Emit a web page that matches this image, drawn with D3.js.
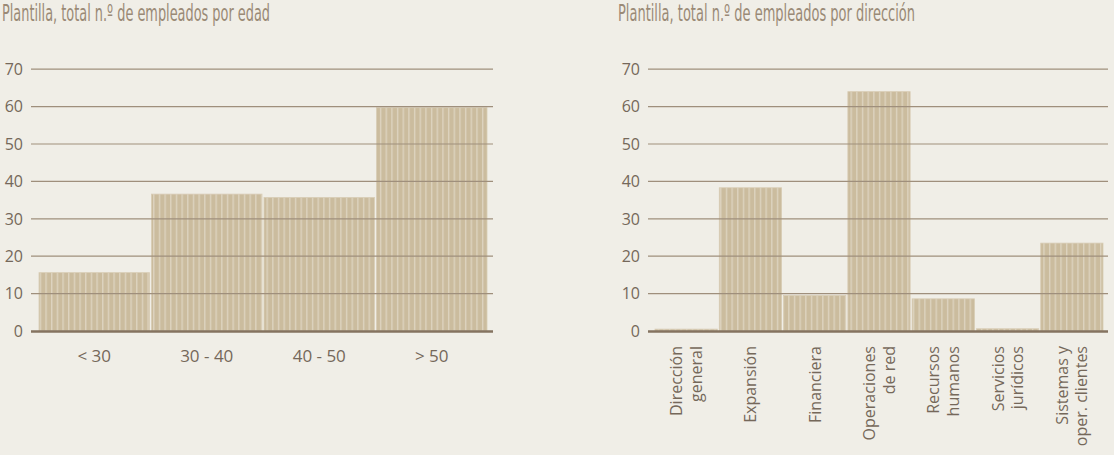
<!DOCTYPE html>
<html>
<head>
<meta charset="utf-8">
<script src="https://cdn.jsdelivr.net/npm/d3@7"></script>
<style>
  html, body { margin: 0; padding: 0; background: #f0eee7; }
  svg { display: block; }
  .tick-label { font-family: "Open Sans", sans-serif; font-size: 16px; fill: #75685a; }
  .cat-label { font-family: "Open Sans", sans-serif; font-size: 17px; fill: #75685a; }
  .title { font-family: "Liberation Sans Narrow", "DejaVu Sans Condensed", "Roboto", sans-serif; font-size: 23px; fill: #9a8a76; }
</style>
</head>
<body>
<div id="chart"></div>
<script>
// Data
const edadCats = ['< 30', '30 - 40', '40 - 50', '> 50'];
const edadVals = [15.6, 36.6, 35.7, 59.7];

const dirCats = [
  ['Dirección', 'general'],
  ['Expansión'],
  ['Financiera'],
  ['Operaciones', 'de red'],
  ['Recursos', 'humanos'],
  ['Servicios', 'jurídicos'],
  ['Sistemas y', 'oper. clientes'],
];
const dirVals = [0.5, 38.3, 9.5, 64, 8.6, 0.6, 23.5];

const yTicks = [0, 10, 20, 30, 40, 50, 60, 70];

const BAR = '#cbbc9e';
const STRIPE = '#ddd3bf';
const GRID = '#9f8f7c';
const AXIS = '#857360';

const svg = d3.select('#chart')
  .append('svg')
  .attr('width', 1114)
  .attr('height', 455);

// striped fill, one thin light line every ~5.7px
const defs = svg.append('defs');
const pat = defs.append('pattern')
  .attr('id', 'stripes')
  .attr('patternUnits', 'userSpaceOnUse')
  .attr('width', 5.67)
  .attr('height', 10);
pat.append('rect').attr('width', 5.67).attr('height', 10).attr('fill', BAR);
pat.append('rect').attr('x', 0).attr('width', 1.4).attr('height', 10).attr('fill', STRIPE);

const y = d3.scaleLinear().domain([0, 70]).range([331, 69.2]);

function drawChart(opts) {
  const { title, titleX, titleLen, cats, vals, gridX0, gridX1, bandRange, pad, rotated } = opts;
  const g = svg.append('g');

  g.append('text')
    .attr('class', 'title')
    .attr('x', titleX)
    .attr('y', 21)
    .attr('textLength', titleLen)
    .attr('lengthAdjust', 'spacingAndGlyphs')
    .text(title);

  const x = d3.scaleBand()
    .domain(d3.range(cats.length))
    .range(bandRange)
    .paddingInner(pad)
    .paddingOuter(0);

  // Bars
  g.selectAll('.bar')
    .data(vals)
    .join('rect')
    .attr('class', 'bar')
    .attr('x', (d, i) => x(i))
    .attr('y', d => y(d))
    .attr('width', x.bandwidth())
    .attr('height', d => y(0) - y(d))
    .attr('fill', 'url(#stripes)')
    .attr('stroke', '#d8ccb5')
    .attr('stroke-width', 0.8);

  // Gridlines (drawn over the bars)
  g.selectAll('.grid')
    .data(yTicks.filter(t => t > 0))
    .join('line')
    .attr('x1', gridX0)
    .attr('x2', gridX1)
    .attr('y1', d => y(d))
    .attr('y2', d => y(d))
    .attr('stroke', GRID)
    .attr('stroke-width', 1.2);

  g.append('line')
    .attr('x1', gridX0)
    .attr('x2', gridX1)
    .attr('y1', y(0) + 0.5)
    .attr('y2', y(0) + 0.5)
    .attr('stroke', AXIS)
    .attr('stroke-width', 2.6);

  // Y tick labels
  g.selectAll('.tick-label')
    .data(yTicks)
    .join('text')
    .attr('class', 'tick-label')
    .attr('x', gridX0 - 8)
    .attr('y', d => y(d))
    .attr('dy', '0.36em')
    .attr('text-anchor', 'end')
    .text(d => d);

  // Category labels
  if (!rotated) {
    g.selectAll('.cat-label')
      .data(cats)
      .join('text')
      .attr('class', 'cat-label')
      .attr('x', (d, i) => x(i) + x.bandwidth() / 2)
      .attr('y', 362)
      .attr('text-anchor', 'middle')
      .text(d => d);
  } else {
    const lab = g.selectAll('.cat-label')
      .data(cats)
      .join('text')
      .attr('class', 'cat-label')
      .style('font-size', '16px')
      .attr('text-anchor', 'end')
      .attr('transform', (d, i) => `translate(${x(i) + x.bandwidth() / 2},346) rotate(-90)`);
    lab.selectAll('tspan')
      .data(d => d.map((s, j) => ({ s, j, n: d.length })))
      .join('tspan')
      .attr('x', 0)
      .attr('y', d => (d.j - (d.n - 1) / 2) * 19.5 + 5.8)
      .text(d => d.s);
  }
}

drawChart({
  title: 'Plantilla, total n.º de empleados por edad',
  titleX: 2,
  titleLen: 268,
  cats: edadCats,
  vals: edadVals,
  gridX0: 31,
  gridX1: 493,
  bandRange: [39, 487],
  pad: 2 / 112,
  rotated: false,
});

drawChart({
  title: 'Plantilla, total n.º de empleados por dirección',
  titleX: 618,
  titleLen: 297,
  cats: dirCats,
  vals: dirVals,
  gridX0: 648,
  gridX1: 1108,
  bandRange: [655, 1103],
  pad: 2 / 64,
  rotated: true,
});
</script>
</body>
</html>
